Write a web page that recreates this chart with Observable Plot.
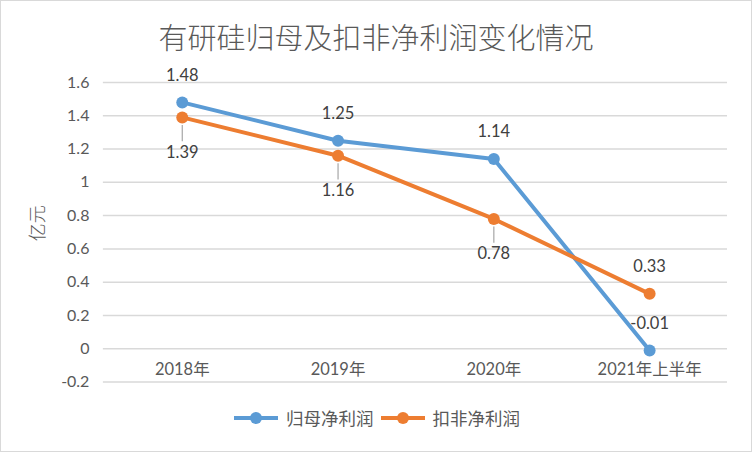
<!DOCTYPE html>
<html><head><meta charset="utf-8">
<script src="https://cdn.jsdelivr.net/npm/d3@7"></script>
<script src="https://cdn.jsdelivr.net/npm/@observablehq/plot@0.6"></script>
<style>
body{margin:0;background:#fff;}
#wrap{position:relative;width:750px;height:450px;border:1px solid #d9d9d9;font-family:"Noto Sans CJK SC",sans-serif;overflow:hidden;background:#fff}
#title{position:absolute;top:15px;left:0;width:750px;text-align:center;font-size:29px;font-weight:300;color:#595959;line-height:40px}
#chart{position:absolute;top:52px;left:-1px}
#legend{position:absolute;top:404px;left:0;width:750px;display:flex;justify-content:center;align-items:center;gap:5px;font-size:17.5px;color:#595959}
.item{display:flex;align-items:center;gap:6px}
</style></head>
<body>
<div id="wrap">
  <div id="title"></div>
  <div id="chart"></div>
  <div id="legend"></div>
</div>
<script>
const title = "有研硅归母及扣非净利润变化情况";
const yLabel = "亿元";
const categories = ["2018年", "2019年", "2020年", "2021年上半年"];
const seriesNames = ["归母净利润", "扣非净利润"];
const netProfit = [1.48, 1.25, 1.14, -0.01];
const deductedProfit = [1.39, 1.16, 0.78, 0.33];
const yTicks = [-0.2, 0, 0.2, 0.4, 0.6, 0.8, 1, 1.2, 1.4, 1.6];
const colors = ["#5B9BD5", "#ED7D31"];

document.getElementById("title").textContent = title;

const data = [];
categories.forEach((c, i) => {
  data.push({cat: c, series: seriesNames[0], value: netProfit[i], i});
  data.push({cat: c, series: seriesNames[1], value: deductedProfit[i], i});
});
const blue = data.filter(d => d.series === seriesNames[0]);
const orange = data.filter(d => d.series === seriesNames[1]);
const orangeBelow = orange.filter(d => d.i < 3);
const orangeAbove = orange.filter(d => d.i >= 3);
const fmt = d => String(+d.toFixed(2));
const tickFmt = d => String(+d.toFixed(1));

const chart = Plot.plot({
  width: 752, height: 343,
  marginLeft: 103, marginRight: 24, marginTop: 29, marginBottom: 14,
  style: {fontFamily: "Lato, 'Noto Sans CJK SC', sans-serif", background: "transparent"},
  x: {type: "point", domain: categories, padding: 0.5, axis: null},
  y: {domain: [-0.2, 1.6], axis: null},
  color: {domain: seriesNames, range: colors},
  marks: [
    Plot.gridY(yTicks, {stroke: "#d9d9d9", strokeOpacity: 1, strokeWidth: 1.5}),
    Plot.axisY(yTicks, {tickSize: 0, tickPadding: 14, fontSize: 16, fill: "#595959", tickFormat: tickFmt, label: null}),
    Plot.text([yLabel], {frameAnchor: "left", dx: -65, dy: 9, rotate: -90, fontSize: 18, fontWeight: 300, fill: "#595959", fontFamily: "'Noto Sans CJK SC', sans-serif"}),
    Plot.text(categories, {x: d => d, y: () => 0, dy: 21, fontSize: 16.5, fill: "#595959", fontFamily: "Lato, 'Noto Sans CJK SC', sans-serif"}),
    Plot.ruleX(orangeBelow, {x: "cat", y1: "value", y2: d => d.value - 0.2, insetTop: 8, insetBottom: 9, stroke: "#a6a6a6", strokeWidth: 1.2}),
    Plot.line(blue, {x: "cat", y: "value", stroke: colors[0], strokeWidth: 4}),
    Plot.dot(blue, {x: "cat", y: "value", fill: colors[0], r: 6}),
    Plot.line(orange, {x: "cat", y: "value", stroke: colors[1], strokeWidth: 4}),
    Plot.dot(orange, {x: "cat", y: "value", fill: colors[1], r: 6}),
    Plot.text(blue, {x: "cat", y: "value", text: d => fmt(d.value), dy: -27, fontSize: 16.5, fill: "#404040"}),
    Plot.text(orangeAbove, {x: "cat", y: "value", text: d => fmt(d.value), dy: -27, fontSize: 16.5, fill: "#404040"}),
    Plot.text(orangeBelow, {x: "cat", y: "value", text: d => fmt(d.value), dy: 35, fontSize: 16.5, fill: "#404040"})
  ]
});
document.getElementById("chart").appendChild(chart);

const legend = document.getElementById("legend");
seriesNames.forEach((name, k) => {
  const item = document.createElement("div");
  item.className = "item";
  item.innerHTML = `<svg width="48" height="14"><line x1="2" y1="7" x2="46" y2="7" stroke="${colors[k]}" stroke-width="4"/><circle cx="24" cy="7" r="6" fill="${colors[k]}"/></svg><span>${name}</span>`;
  legend.appendChild(item);
});
</script>
</body></html>
